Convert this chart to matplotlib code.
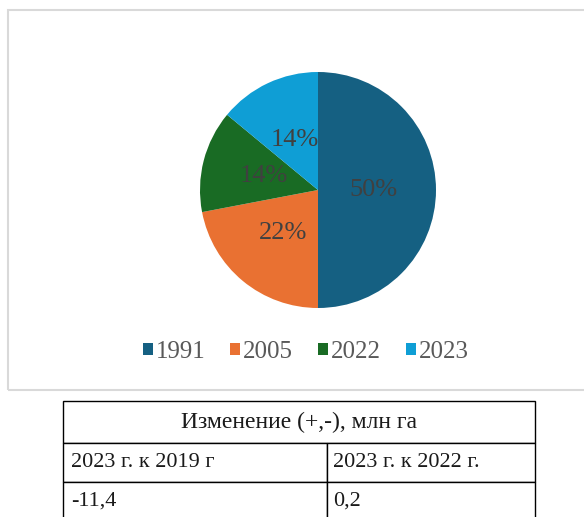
import matplotlib.pyplot as plt
from matplotlib.patches import Rectangle

# данные
years = ['1991', '2005', '2022', '2023']
shares = [50, 22, 14, 14]
colors = ['#156082', '#E97132', '#196B24', '#0F9ED5']

table_title = 'Изменение (+,-), млн га'
col_labels = ['2023 г. к 2019 г', '2023 г. к 2022 г.']
col_values = ['-11,4', '0,2']

plt.rcParams['font.family'] = ['Liberation Serif', 'DejaVu Serif']

W, H = 584, 517
fig = plt.figure(figsize=(W / 100, H / 100), dpi=100)

def box(x0, y0, x1, y1):
    # пиксели -> доли фигуры
    return [x0 / W, 1 - y1 / H, (x1 - x0) / W, (y1 - y0) / H]

# рамка диаграммы
fig.patches.append(Rectangle((8 / W, 1 - 390 / H), 600 / W, 380 / H,
                             transform=fig.transFigure, fill=False,
                             edgecolor='#D9D9D9', linewidth=1.5))

ax = fig.add_axes(box(200, 72, 436, 308))
wedges, texts, autotexts = ax.pie(
    shares, colors=colors, startangle=90, counterclock=False,
    autopct='%d%%', pctdistance=0.47, radius=1,
    textprops=dict(color='#404040', fontsize=19))
ax.set_xlim(-1.0, 1.0)
ax.set_ylim(-1.0, 1.0)
ax.axis('off')

fig.legend(wedges, years, loc='center', bbox_to_anchor=(306 / W, 1 - 352 / H),
           ncol=4, frameon=False, fontsize=18, handlelength=0.4, handleheight=0.4,
           handletextpad=0.12, columnspacing=1.0, labelcolor='#595959')

# таблица
tax = fig.add_axes(box(63, 401, 535, 521))
tax.axis('off')
head = tax.table(cellText=[[table_title]], cellLoc='center',
                 bbox=[0, 1 - 42 / 120, 1, 42 / 120])
body = tax.table(cellText=[col_labels, col_values], cellLoc='left',
                 colWidths=[264 / 472, 208 / 472],
                 bbox=[0, 0, 1, 78 / 120])
for t, fs in ((head, 17), (body, 16)):
    t.auto_set_font_size(False)
    for c in t.get_celld().values():
        c.set_edgecolor('black')
        c.set_linewidth(1.0)
        c.get_text().set_fontsize(fs)
        c.get_text().set_color('#1a1a1a')
        c.PAD = 0.03

fig.savefig('out.png', dpi=100)
